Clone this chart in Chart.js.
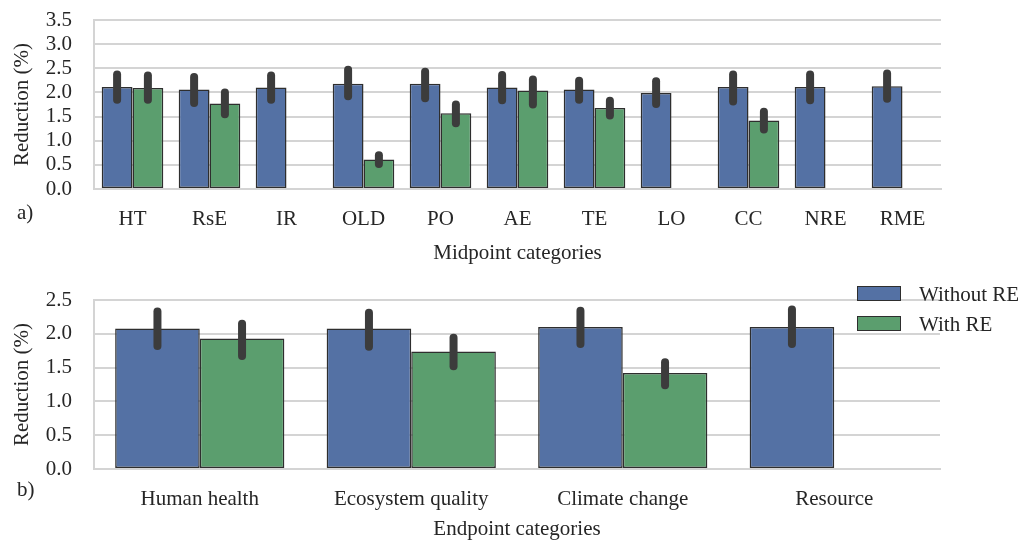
<!DOCTYPE html>
<html><head><meta charset="utf-8">
<script src="https://cdn.jsdelivr.net/npm/chart.js@4.4.1/dist/chart.umd.min.js"></script>
<style>
html,body{margin:0;padding:0;background:#fff;}
#wrap{position:relative;width:1023px;height:543px;overflow:hidden;background:#fff;}
#c1{position:absolute;left:0;top:0;}
#c2{position:absolute;left:0;top:270px;}
.lab{position:absolute;font-family:"Liberation Serif","Times New Roman",serif;font-size:21px;line-height:21px;color:#262626;}
</style></head>
<body><div id="wrap">
<canvas id="c1" width="1023" height="270"></canvas>
<canvas id="c2" width="1023" height="273"></canvas>
<div class="lab" style="left:17px;top:202px;">a)</div>
<div class="lab" style="left:17px;top:479px;">b)</div>
</div>
<script>
// ---- data ----
const seriesNames = ['Without RE', 'With RE'];
const midCats = ['HT','RsE','IR','OLD','PO','AE','TE','LO','CC','NRE','RME'];
const midWithout = [2.11,2.06,2.10,2.18,2.18,2.10,2.06,1.99,2.11,2.11,2.13];
const midWith = [2.09,1.77,null,0.61,1.57,2.04,1.68,null,1.42,null,null];
const midWithoutLow = [1.85,1.78,1.85,1.92,1.88,1.84,1.85,1.76,1.81,1.84,1.87];
const midWithoutHigh = [2.37,2.32,2.35,2.47,2.43,2.36,2.24,2.23,2.37,2.37,2.39];
const midWithLow = [1.85,1.55,null,0.52,1.36,1.75,1.52,null,1.23,null,null];
const midWithHigh = [2.35,2.00,null,0.70,1.75,2.27,1.83,null,1.60,null,null];

const endCats = ['Human health','Ecosystem quality','Climate change','Resource'];
const endWithout = [2.08,2.08,2.10,2.10];
const endWith = [1.93,1.74,1.42,null];
const endWithoutLow = [1.82,1.81,1.85,1.85];
const endWithoutHigh = [2.33,2.31,2.34,2.36];
const endWithLow = [1.67,1.52,1.24,null];
const endWithHigh = [2.15,1.94,1.58,null];

const midTicks = [0,0.5,1.0,1.5,2.0,2.5,3.0,3.5];
const endTicks = [0,0.5,1.0,1.5,2.0,2.5];

// ---- styles ----
const FONT = '"Liberation Serif","Times New Roman",serif';
const FS = 21;
const BLUE = '#5471a4';
const GREEN = '#5b9e6e';
const EDGE = '#2e2e2e';
const GRID = '#d4d4d4';
const TXT = '#262626';
const ERR = '#3c3c3c';

const errorBars = {
  id: 'errorBars',
  afterDatasetsDraw(chart) {
    const ctx = chart.ctx;
    const ys = chart.scales.y;
    chart.data.datasets.forEach((ds, i) => {
      const meta = chart.getDatasetMeta(i);
      meta.data.forEach((el, j) => {
        const lo = ds.errLow[j], hi = ds.errHigh[j];
        if (lo == null || hi == null) return;
        ctx.save();
        ctx.strokeStyle = ERR;
        ctx.lineWidth = 8;
        ctx.lineCap = 'round';
        ctx.beginPath();
        ctx.moveTo(el.x, ys.getPixelForValue(lo));
        ctx.lineTo(el.x, ys.getPixelForValue(hi));
        ctx.stroke();
        ctx.restore();
      });
    });
  }
};

const customLegend = {
  id: 'customLegend',
  afterDraw(chart, args, opts) {
    if (!opts.show) return;
    const ctx = chart.ctx;
    ctx.save();
    chart.data.datasets.forEach((ds, i) => {
      const y = opts.top + i * opts.gap;
      ctx.fillStyle = ds.backgroundColor;
      ctx.fillRect(opts.x, y, 44, 15);
      ctx.strokeStyle = EDGE;
      ctx.lineWidth = 1;
      ctx.strokeRect(opts.x + 0.5, y + 0.5, 43, 14);
      ctx.fillStyle = TXT;
      ctx.font = FS + 'px ' + FONT;
      ctx.textBaseline = 'middle';
      ctx.textAlign = 'left';
      ctx.fillText(ds.label, opts.x + 62, y + 9);
    });
    ctx.restore();
  }
};

function makeChart(id, cats, vals1, vals2, lo1, hi1, lo2, hi2, ticks, xTitle, cfg) {
  return new Chart(document.getElementById(id), {
    type: 'bar',
    data: {
      labels: cats,
      datasets: [
        {label: seriesNames[0], data: vals1, errLow: lo1, errHigh: hi1,
         backgroundColor: BLUE, borderColor: EDGE, borderWidth: 1.5, borderSkipped: false,
         categoryPercentage: 0.8, barPercentage: 1.0},
        {label: seriesNames[1], data: vals2, errLow: lo2, errHigh: hi2,
         backgroundColor: GREEN, borderColor: EDGE, borderWidth: 1.5, borderSkipped: false,
         categoryPercentage: 0.8, barPercentage: 1.0}
      ]
    },
    options: {
      responsive: false,
      animation: false,
      devicePixelRatio: 1,
      layout: {padding: {top: cfg.padTop, right: cfg.padRight, left: 0, bottom: 0}},
      plugins: {
        legend: {display: false},
        tooltip: {enabled: false},
        customLegend: cfg.legend
      },
      scales: {
        x: {
          grid: {display: false, drawTicks: false},
          border: {display: true, color: GRID, width: 2},
          ticks: {color: TXT, font: {family: FONT, size: FS}, padding: cfg.xPad, maxRotation: 0, autoSkip: false},
          title: {display: true, text: xTitle, color: TXT, font: {family: FONT, size: FS}, padding: {top: 0, bottom: cfg.xTitlePad}},
          afterFit(s) { s.height = cfg.xHeight; }
        },
        y: {
          min: ticks[0], max: ticks[ticks.length - 1],
          afterBuildTicks(s) { s.ticks = ticks.map(v => ({value: v})); },
          grid: {color: GRID, lineWidth: 2, drawTicks: false},
          border: {display: true, color: GRID, width: 2},
          ticks: {color: TXT, font: {family: FONT, size: FS}, padding: 22, autoSkip: false,
                  callback: v => Number(v).toFixed(1)},
          title: {display: true, text: 'Reduction (%)', color: TXT, font: {family: FONT, size: FS}, padding: {top: 10, bottom: 0}},
          afterFit(s) { s.width = 94; s.paddingTop = 0; s.paddingBottom = 0; }
        }
      }
    },
    plugins: [errorBars, customLegend]
  });
}

makeChart('c1', midCats, midWithout, midWith, midWithoutLow, midWithoutHigh, midWithLow, midWithHigh,
  midTicks, 'Midpoint categories',
  {padTop: 20, padRight: 82, xHeight: 81, xPad: 18, xTitlePad: 4, legend: {show: false}});

makeChart('c2', endCats, endWithout, endWith, endWithoutLow, endWithoutHigh, endWithLow, endWithHigh,
  endTicks, 'Endpoint categories',
  {padTop: 30, padRight: 83, xHeight: 74, xPad: 18, xTitlePad: 1, legend: {show: true, x: 857, top: 16, gap: 30}});
</script>
</body></html>
